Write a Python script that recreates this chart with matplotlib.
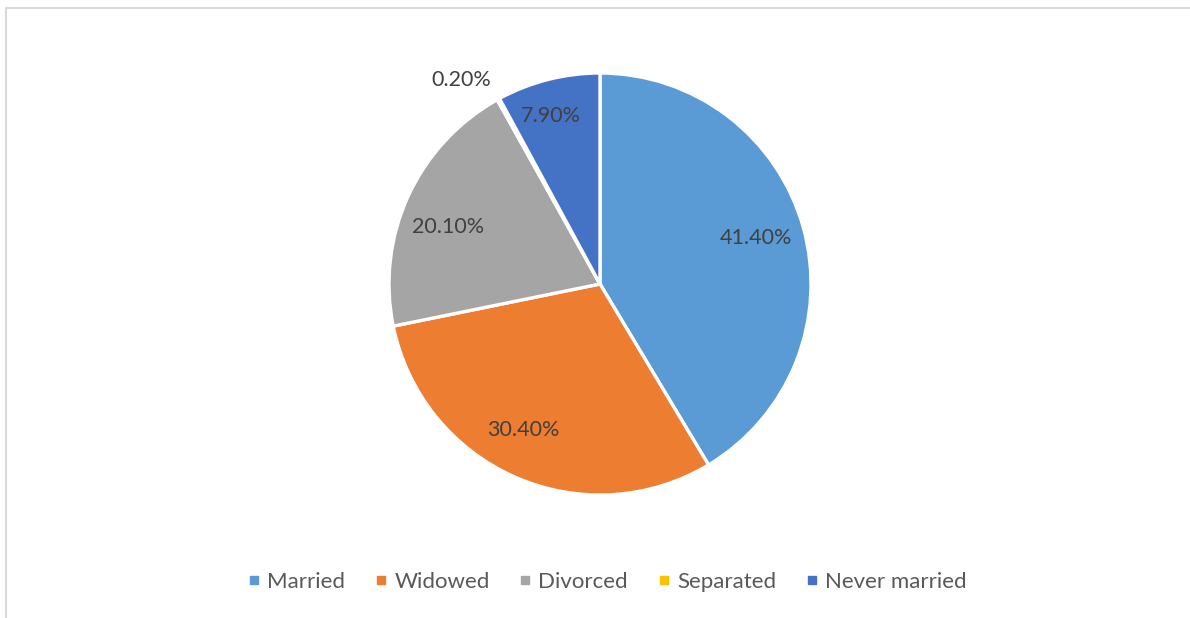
import numpy as np
import matplotlib
matplotlib.use("Agg")
import matplotlib.pyplot as plt
from matplotlib.lines import Line2D

categories = ["Married", "Widowed", "Divorced", "Separated", "Never married"]
values = [41.4, 30.4, 20.1, 0.2, 7.9]
labels = ["41.40%", "30.40%", "20.10%", "0.20%", "7.90%"]
colors = ["#5B9BD5", "#ED7D31", "#A5A5A5", "#FFC000", "#4472C4"]

plt.rcParams['font.family'] = ['Lato', 'DejaVu Sans']

W, H = 1190, 618
fig = plt.figure(figsize=(W / 100, H / 100), dpi=100)
ax = fig.add_axes([0, 0, 1, 1])
ax.set_xlim(0, W)
ax.set_ylim(0, H)
ax.set_aspect('equal')
ax.axis('off')

cx, cy, R = 600, H - 284, 211
wedges, _ = ax.pie(values, colors=colors, startangle=90, counterclock=False,
                   center=(cx, cy), radius=R, frame=True,
                   wedgeprops=dict(edgecolor='white', linewidth=2.4))
ax.set_xlim(0, W)
ax.set_ylim(0, H)
ax.axis('off')

label_r = [0.77, 0.78, 0.77, 1.17, 0.83]
label_da = [1.0, -4.0, 4.0, 5.5, 2.0]
for w, lab, rf, da in zip(wedges, labels, label_r, label_da):
    ang = np.deg2rad((w.theta1 + w.theta2) / 2 + da)
    x = cx + rf * R * np.cos(ang)
    y = cy + rf * R * np.sin(ang)
    ax.text(x, y, lab, ha='center', va='center', fontsize=15.5, color='#404040')

# border lines
ax.plot([5, W], [H - 8, H - 8], color='#D9D9D9', lw=1.5, solid_capstyle='butt')
ax.plot([6, 6], [0, H - 8], color='#D9D9D9', lw=1.5, solid_capstyle='butt')

handles = [Line2D([0], [0], marker='s', linestyle='none', markersize=6,
                  markerfacecolor=c, markeredgecolor=c) for c in colors]
fig.legend(handles, categories, loc='center', bbox_to_anchor=(607 / W, 1 - 582 / H),
           ncol=5, frameon=False, fontsize=16, labelcolor='#595959',
           handlelength=0.6, handletextpad=0.3, columnspacing=1.3)

fig.savefig("out.png", dpi=100)
